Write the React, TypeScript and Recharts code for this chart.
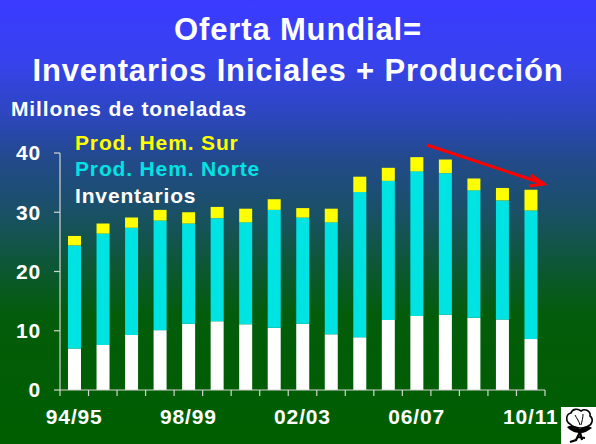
import { BarChart, Bar, XAxis, YAxis } from "recharts";

const seasons = [
  "94/95", "95/96", "96/97", "97/98", "98/99", "99/00", "00/01", "01/02", "02/03",
  "03/04", "04/05", "05/06", "06/07", "07/08", "08/09", "09/10", "10/11",
];
// millones de toneladas
const inventarios = [7.0, 7.6, 9.3, 10.1, 11.2, 11.6, 11.1, 10.5, 11.2, 9.4, 8.9, 11.8, 12.5, 12.7, 12.2, 11.9, 8.6];
const prodNorte = [17.4, 18.8, 18.1, 18.5, 16.9, 17.4, 17.2, 19.9, 17.9, 18.9, 24.5, 23.5, 24.4, 23.9, 21.5, 20.1, 21.7];
const prodSur = [1.6, 1.7, 1.7, 1.8, 1.9, 1.9, 2.3, 1.8, 1.6, 2.3, 2.6, 2.2, 2.4, 2.3, 2.0, 2.1, 3.5];
const yTicks = [0, 10, 20, 30, 40];

// orden de apilado: de abajo hacia arriba
const series = [
  { key: "inv", name: "Inventarios", color: "#ffffff" },
  { key: "norte", name: "Prod. Hem. Norte", color: "#00e3e3" },
  { key: "sur", name: "Prod. Hem. Sur", color: "#ffff00" },
];

const FONT = "'Liberation Sans', Arial, sans-serif";
const AXIS = "#d2d6d2";

const data = seasons.map((s, i) => ({
  season: s,
  idx: i + 0.5,
  inv: inventarios[i],
  norte: prodNorte[i],
  sur: prodSur[i],
}));
const frameTicks = seasons.map((_, i) => i).concat(seasons.length);

const textStyle = {
  fontFamily: FONT,
  fontWeight: 700,
  fontSize: 21,
  letterSpacing: 0.85,
  color: "#fff",
};
const tickStyle = { fill: "#fff", fontSize: 21, fontWeight: 700, fontFamily: FONT, letterSpacing: 0.85 };

function CottonLogo() {
  return (
    <svg width={35} height={37} style={{ position: "absolute", left: 561, top: 407 }}>
      <rect width={35} height={37} fill="#fff" />
      <path
        d="M9 17 C4 14 5 7 10 6 C11 2 17 1 20 4 C24 1 30 4 29 9 C33 12 31 18 27 19 C24 22 14 22 9 17 Z"
        fill="#fff" stroke="#000" strokeWidth={1.6}
      />
      <path d="M14 8 C16 12 18 14 19 18 M22 7 C22 11 21 14 20 18" stroke="#000" strokeWidth={1} fill="none" />
      <path d="M6 20 C10 17 16 20 19 22 C22 19 28 18 31 21 C27 24 23 26 20 26 C16 26 10 25 6 20 Z" fill="#000" />
      <path d="M19 25 L15 33 L9 35 M19 25 L21 33 M17 30 L24 31" stroke="#000" strokeWidth={2.2} fill="none" />
    </svg>
  );
}

export default function App() {
  return (
    <div
      style={{
        position: "relative",
        width: 596,
        height: 444,
        overflow: "hidden",
        background:
          "linear-gradient(to bottom, #3a3aff 0px, #3742ee 60px, #2c46be 115px, #224a8a 160px, #1a5068 210px, #0d5736 265px, #035c0a 315px, #005e00 444px)",
      }}
    >
      <style>{"body{margin:0}"}</style>

      <BarChart
        width={596}
        height={444}
        data={data}
        margin={{ top: 153, right: 51, bottom: 0, left: 0 }}
        style={{ position: "absolute", left: 0, top: 0 }}
      >
        {/* eje numérico solo para las marcas entre categorías */}
        <XAxis
          xAxisId="a_frame"
          type="number"
          dataKey="idx"
          domain={[0, seasons.length]}
          ticks={frameTicks}
          tickFormatter={() => ""}
          tick={{ fontSize: 1 }}
          tickSize={6}
          tickMargin={0}
          height={8}
          stroke={AXIS}
          strokeWidth={1.2}
          allowDataOverflow
        />
        <XAxis
          xAxisId="b_cat"
          dataKey="season"
          interval={3}
          height={46}
          axisLine={false}
          tickLine={false}
          tickSize={6}
          tickMargin={5}
          tick={tickStyle}
        />
        <YAxis
          domain={[0, 40]}
          ticks={yTicks}
          width={60}
          stroke={AXIS}
          strokeWidth={1.2}
          tickSize={6}
          tickMargin={13}
          tick={tickStyle}
        />
        {series.map((s) => (
          <Bar
            key={s.key}
            xAxisId="b_cat"
            dataKey={s.key}
            name={s.name}
            stackId="a"
            fill={s.color}
            barSize={13}
            isAnimationActive={false}
          />
        ))}
      </BarChart>

      <div
        style={{
          ...textStyle,
          position: "absolute",
          top: 10.4,
          left: 0,
          width: 596,
          textAlign: "center",
          fontSize: 31,
          lineHeight: "40.7px",
        }}
      >
        <div>Oferta Mundial=</div>
        <div>Inventarios Iniciales + Producción</div>
      </div>
      <div style={{ ...textStyle, position: "absolute", top: 97.7, left: 11, lineHeight: "21px" }}>
        Millones de toneladas
      </div>
      <div style={{ ...textStyle, position: "absolute", top: 129.5, left: 75, lineHeight: "26.5px" }}>
        {[...series].reverse().map((s) => (
          <div key={s.key} style={{ color: s.color }}>{s.name}</div>
        ))}
      </div>

      <svg width={596} height={444} style={{ position: "absolute", left: 0, top: 0, pointerEvents: "none" }}>
        <line x1={427} y1={145} x2={540} y2={182.5} stroke="#ff0000" strokeWidth={3} />
        <path d="M531 175 L544 184 L529 186" stroke="#ff0000" strokeWidth={3} fill="none" />
      </svg>
      <CottonLogo />
    </div>
  );
}
